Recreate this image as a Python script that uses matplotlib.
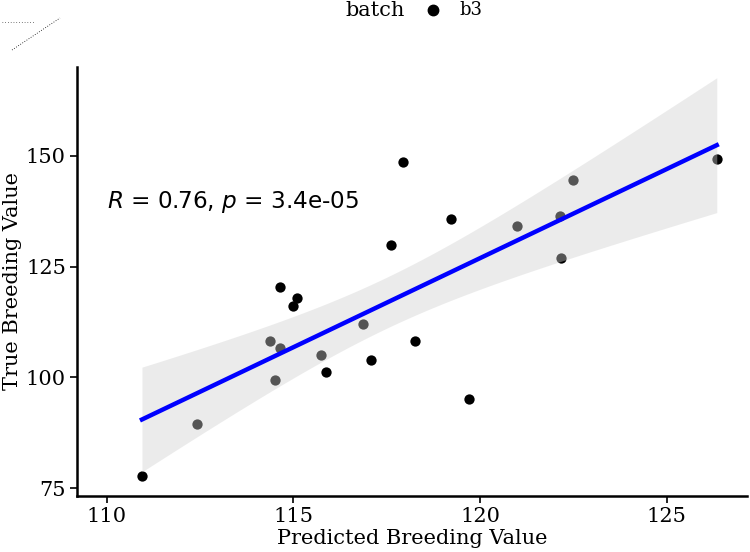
import numpy as np
import matplotlib
matplotlib.use("Agg")
import matplotlib.pyplot as plt
from matplotlib.lines import Line2D

predicted = [110.94, 112.41, 114.37, 114.50, 114.63, 114.63, 114.98, 115.09, 115.73, 115.87,
             116.86, 117.07, 117.61, 117.93, 118.25, 119.21, 119.70, 121.00, 122.14, 122.16,
             122.50, 126.34]
true_bv = [77.7, 89.5, 108.2, 99.4, 106.6, 120.4, 116.1, 117.9, 105.0, 101.2,
           112.0, 103.9, 129.9, 148.6, 108.2, 135.7, 95.1, 134.2, 136.4, 127.0,
           144.6, 149.3]
x_ticks = [110, 115, 120, 125]
y_ticks = [75, 100, 125, 150]
annot = "$R$ = 0.76, $p$ = 3.4e-05"

x = np.array(predicted)
y = np.array(true_bv)
n = len(x)
b1, b0 = np.polyfit(x, y, 1)
xs = np.linspace(x.min(), x.max(), 100)
ys = b0 + b1 * xs
resid = y - (b0 + b1 * x)
s = np.sqrt(np.sum(resid**2) / (n - 2))
sxx = np.sum((x - x.mean())**2)
se = s * np.sqrt(1 / n + (xs - x.mean())**2 / sxx)
tval = 2.086  # t(0.975, 20)
lo, hi = ys - tval * se, ys + tval * se

fig = plt.figure(figsize=(7.5, 5.52), dpi=100)
ax = fig.add_axes([77/750, 1 - 496/552, (747-77)/750, (496-67)/552])

ax.scatter(x, y, s=55, color="black", zorder=2, linewidths=0)
ax.fill_between(xs, lo, hi, color="#D0D0D0", alpha=0.41, linewidth=0, zorder=3)
ax.plot(xs, ys, color="#0000FF", lw=3.2, zorder=4)

ax.set_xlim(109.2, 127.15)
ax.set_ylim(73.2, 170.1)
ax.set_xticks(x_ticks)
ax.set_yticks(y_ticks)
for sp in ["top", "right"]:
    ax.spines[sp].set_visible(False)
for sp in ["left", "bottom"]:
    ax.spines[sp].set_linewidth(1.8)
ax.tick_params(axis="both", length=5, width=1.2, labelsize=15, pad=3)
for lab in ax.get_xticklabels() + ax.get_yticklabels():
    lab.set_family("DejaVu Serif")
ax.set_xlabel("Predicted Breeding Value", family="DejaVu Serif", fontsize=15, labelpad=2)
ax.set_ylabel("True Breeding Value", family="DejaVu Serif", fontsize=15, va="center")
ax.yaxis.set_label_coords(-0.097, 0.5)

ax.text(110.0, 139.5, annot, fontsize=16.7, family="DejaVu Sans", va="center", ha="left")

# legend at top
fig.text(345/750, 1 - 11/552, "batch", family="DejaVu Serif", fontsize=15, va="center", ha="left")
fig.add_artist(Line2D([433/750], [1 - 10/552], marker="o", color="black", markersize=7.5,
                      linestyle="none", transform=fig.transFigure))
fig.text(459/750, 1 - 10/552, "b3", family="DejaVu Serif", fontsize=13, va="center", ha="left")

# faint dotted artifact top-left
fig.add_artist(Line2D([12/750, 60/750], [1 - 50/552, 1 - 18/552], color="black", lw=0.6,
                      linestyle=(0, (1, 2)), transform=fig.transFigure))
fig.add_artist(Line2D([2/750, 35/750], [1 - 22/552, 1 - 22/552], color="black", lw=0.5,
                      linestyle=(0, (1, 3)), transform=fig.transFigure))

fig.savefig("out.png", dpi=100)
